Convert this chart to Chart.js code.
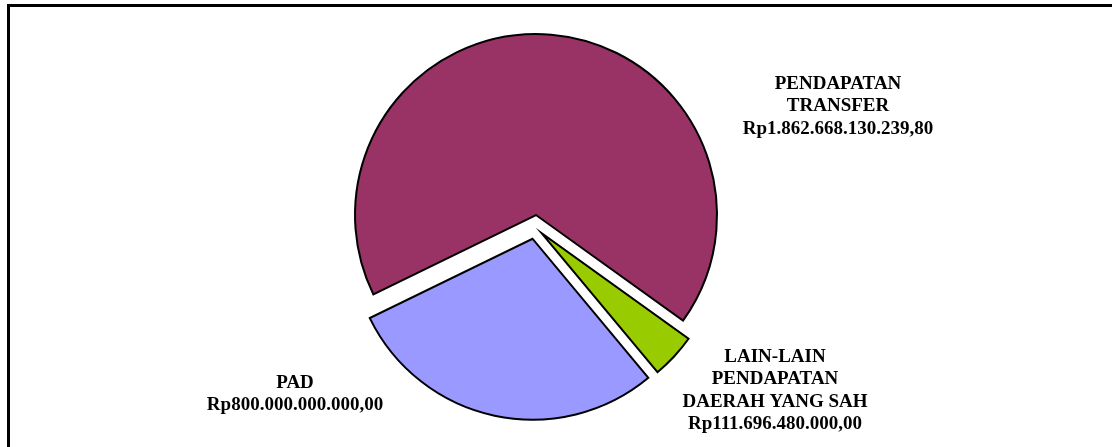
<!DOCTYPE html>
<html>
<head>
<meta charset="utf-8">
<script src="https://cdn.jsdelivr.net/npm/chart.js@4/dist/chart.umd.min.js"></script>
<style>
  html, body { margin: 0; padding: 0; background: #fff; overflow: hidden; }
  #wrap { position: relative; width: 1112px; height: 447px; }
  canvas { display: block; }
</style>
</head>
<body>
<div id="wrap"><canvas id="pieChart" width="1112" height="447"></canvas></div>
<script>
// Komposisi pendapatan daerah
const categories = [
    ['PENDAPATAN', 'TRANSFER'],
    ['LAIN-LAIN', 'PENDAPATAN', 'DAERAH YANG SAH'],
    ['PAD']
];
const values = [1862668130239.80, 111696480000.00, 800000000000.00];
const sliceColors = ['#993366', '#99CC00', '#9999FF'];
const explode = [12, 9, 12]; // px, pushed out along each slice's mid angle

// label centres (x, y of first line)
const labelPos = [
    { x: 838, y: 84 },
    { x: 775, y: 357 },
    { x: 295, y: 383 }
];
const LINE_H = 22.5;

function formatRp(v) {
    const parts = v.toFixed(2).split('.');
    const intPart = parts[0].replace(/\B(?=(\d{3})+(?!\d))/g, '.');
    return 'Rp' + intPart + ',' + parts[1];
}

// only the top and left edges of the outer frame are in view
const framePlugin = {
    id: 'frame',
    beforeDraw(chart) {
        const c = chart.ctx;
        c.save();
        c.fillStyle = '#000';
        c.fillRect(7, 4, 3, 443);
        c.fillRect(7, 4, 1105, 3);
        c.restore();
    }
};

// exploded slices: move every arc outward without growing its radius
const explodePlugin = {
    id: 'explode',
    afterDatasetUpdate(chart, args) {
        const meta = chart.getDatasetMeta(args.index);
        meta.data.forEach((arc, i) => {
            const mid = (arc.startAngle + arc.endAngle) / 2;
            arc.x += Math.cos(mid) * explode[i];
            arc.y += Math.sin(mid) * explode[i];
        });
    }
};

const labelPlugin = {
    id: 'sliceLabels',
    afterDatasetsDraw(chart) {
        const c = chart.ctx;
        c.save();
        c.fillStyle = '#000';
        c.font = 'bold 19px "Liberation Serif", "Times New Roman", serif';
        c.textAlign = 'center';
        c.textBaseline = 'middle';
        categories.forEach((lines, i) => {
            const all = lines.concat([formatRp(values[i])]);
            all.forEach((t, j) => {
                c.fillText(t, labelPos[i].x, labelPos[i].y + j * LINE_H);
            });
        });
        c.restore();
    }
};

new Chart(document.getElementById('pieChart'), {
    type: 'pie',
    data: {
        labels: categories.map(l => l.join(' ')),
        datasets: [{
            data: values,
            backgroundColor: sliceColors,
            borderColor: '#000',
            borderWidth: 2,
            borderJoinStyle: 'miter'
        }]
    },
    options: {
        responsive: false,
        animation: false,
        rotation: 244,
        radius: 181,
        layout: {
            padding: { left: 0, right: 42, top: 7, bottom: 0 }
        },
        plugins: {
            legend: { display: false },
            tooltip: { enabled: false }
        }
    },
    plugins: [framePlugin, explodePlugin, labelPlugin]
});
</script>
</body>
</html>
